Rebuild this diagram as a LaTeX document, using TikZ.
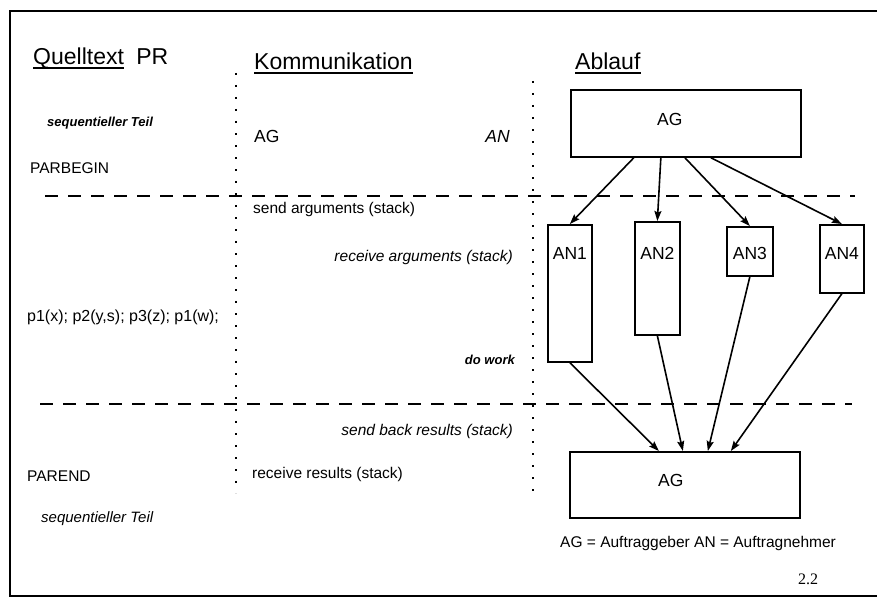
\documentclass[tikz,border=0pt]{standalone}
\usepackage{fontspec}
\setmainfont{Liberation Sans}
\newfontfamily\pagefont{Liberation Serif}
\usepackage{tikz}
\usetikzlibrary{arrows.meta,positioning}

\begin{document}
\begin{tikzpicture}[
    x=1pt,y=-1pt,
    >={Stealth[length=10pt,width=7pt,inset=1.5pt]},
    every node/.style={inner sep=0pt},
    head/.style={font=\fontsize{23}{26}\selectfont,anchor=base west},
    txt/.style={font=\fontsize{15.5}{18}\selectfont,anchor=base west},
    itxt/.style={font=\fontsize{15.5}{18}\selectfont\itshape,anchor=base east},
    btxt/.style={font=\fontsize{13}{16}\selectfont\bfseries\itshape},
    lbl/.style={font=\fontsize{17.5}{20}\selectfont},
    box/.style={draw,line width=1.7pt,anchor=north west},
    sep/.style={line width=1.7pt,dash pattern=on 13pt off 10pt},
    col/.style={line width=1.8pt,dash pattern=on 1.7pt off 10.3pt},
    uline/.style={line width=1.3pt},
    arr/.style={->,line width=1.6pt}
]
\useasboundingbox (0,0) rectangle (877,599);
\draw[line width=1.5pt] (877,11) -| (10,596) -- (877,596);

\node[head] (quell) at (33,65) {Quelltext};
\node[head,base right=12pt of quell] (prname) {PR};
\node[head] (komm) at (254,70) {Kommunikation};
\node[head] (ablauf) at (575,70) {Ablauf};
\draw[uline] ([yshift=-3pt]quell.base west) -- ([yshift=-3pt]quell.base east);
\draw[uline] ([yshift=-3pt]komm.base west) -- ([yshift=-3pt]komm.base east);
\draw[uline] ([yshift=-3pt]ablauf.base west) -- ([yshift=-3pt]ablauf.base east);

\draw[col] (236,73) -- (236,493);
\draw[col] (533,81) -- (533,500);
\draw[sep] (45,196) -- (855,196);
\draw[sep] (40,404) -- (852,404);

\node[btxt,anchor=base west] (seqtop) at (47,127) {sequentieller Teil};
\node[txt] (parbegin) at (30,173) {PARBEGIN};
\node[txt,font=\fontsize{16}{18}\selectfont] (calls) at (27,321) {p1(x); p2(y,s); p3(z); p1(w);};
\node[txt] (parend) at (27,481) {PAREND};
\node[txt,font=\fontsize{15}{18}\selectfont\itshape] (seqbot) at (41,522) {sequentieller Teil};

\node[txt,lbl] (agcomm) at (254,142) {AG};
\node[itxt,font=\fontsize{17.5}{20}\selectfont\itshape] (ancomm) at (510,142) {AN};
\node[txt] (sendargs) at (253,213) {send arguments (stack)};
\node[itxt] (recvargs) at (513,261) {receive arguments (stack)};
\node[btxt,anchor=base east] (dowork) at (515,364) {do work};
\node[itxt] (sendres) at (513,435) {send back results (stack)};
\node[txt] (recvres) at (252,478) {receive results (stack)};

\node[box,minimum width=230pt,minimum height=67pt] (agtop) at (570,89) {};
\node[lbl] (agtoptxt) at ([xshift=-16pt,yshift=3.5pt]agtop.center) {AG};
\node[box,minimum width=44pt,minimum height=137pt] (an1) at (547,224) {};
\node[box,minimum width=45pt,minimum height=113pt] (an2) at (634,221) {};
\node[box,minimum width=46pt,minimum height=49pt] (an3) at (726,226) {};
\node[box,minimum width=44pt,minimum height=68pt] (an4) at (819,224) {};
\node[lbl,anchor=base] (an1txt) at (an1.north |- 0,259) {AN1};
\node[lbl,anchor=base] (an2txt) at (an2.north |- 0,259) {AN2};
\node[lbl,anchor=base] (an3txt) at (an3.north |- 0,259) {AN3};
\node[lbl,anchor=base] (an4txt) at (an4.north |- 0,259) {AN4};
\node[box,minimum width=230pt,minimum height=66pt] (agbot) at (569,451) {};
\node[lbl] (agbottxt) at ([xshift=-14pt,yshift=4pt]agbot.center) {AG};

\draw[arr] ([xshift=-52pt]agtop.south) -- (an1.north);
\draw[arr] ([xshift=-25pt]agtop.south) -- (an2.north);
\draw[arr] ([xshift=-1pt]agtop.south) -- (an3.north);
\draw[arr] ([xshift=25pt]agtop.south) -- (an4.north);
\draw[arr] (an1.south) -- ([xshift=-26pt]agbot.north);
\draw[arr] (an2.south) -- ([xshift=-2pt]agbot.north);
\draw[arr] (an3.south) -- ([xshift=23pt]agbot.north);
\draw[arr] (an4.south) -- ([xshift=46pt]agbot.north);

\node[txt] (legend) at (560,547) {AG = Auftraggeber AN = Auftragnehmer};
\node[font=\fontsize{16}{18}\pagefont,anchor=base west] (pagenum) at (798,584) {2.2};
\end{tikzpicture}
\end{document}
